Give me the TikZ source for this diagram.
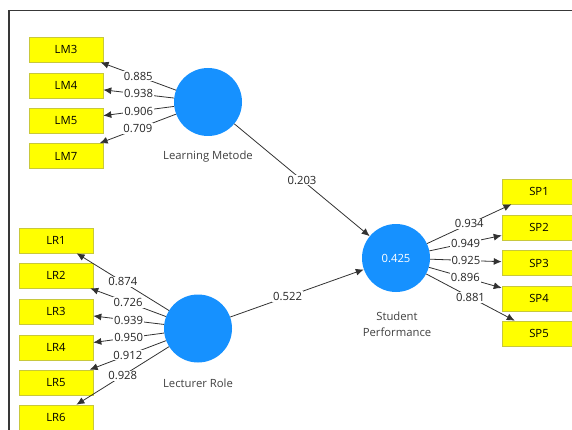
\documentclass[tikz,border=0pt]{standalone}
\usepackage{fontspec}
\setmainfont{Open Sans}
\usetikzlibrary{arrows.meta}
\definecolor{lvblue}{RGB}{22,145,255}
\definecolor{boxyellow}{RGB}{255,255,0}
\definecolor{boxborder}{RGB}{200,200,60}
\definecolor{linegray}{RGB}{50,50,50}
\begin{document}
\begin{tikzpicture}[x=1pt,y=-1pt,
  ind/.style={rectangle, draw=boxborder, fill=boxyellow, minimum width=74pt, minimum height=25pt, inner sep=0pt, font=\fontsize{11.3}{13}\selectfont, text=black, line width=0.6pt},
  lv/.style={circle, fill=lvblue, minimum size=68pt, inner sep=0pt, text=white, font=\fontsize{11.3}{13}\selectfont},
  lvname/.style={font=\fontsize{11.3}{16}\selectfont, text=black!75, align=center},
  load/.style={draw=linegray, line width=0.8pt, -{Latex[length=8pt,width=7pt]}},
  num/.style={fill=white, inner sep=1pt, font=\fontsize{11.3}{13}\selectfont, text=black!85}
]
\useasboundingbox (0,0) rectangle (572,430);
\clip (0,0) rectangle (572,430);
\draw[line width=1.3pt, black!78] (9,432) -- (9,10.5) -- (574,10.5);

% latent variables
\node[lv] (LM) at (208,102) {};
\node[lvname] (LMcap) at (208,157) {Learning Metode};
\node[lv] (LR) at (198,328.5) {};
\node[lvname] (LRcap) at (198,383) {Lecturer Role};
\node[lv] (SP) at (396,258) {0.425};
\node[lvname] (SPcap) at (397,324) {Student\\Performance};

% indicators
\node[ind] (LM3) at (66,49.5) {LM3};
\node[ind] (LM4) at (66,85.5) {LM4};
\node[ind] (LM5) at (66,120.5) {LM5};
\node[ind] (LM7) at (66,156) {LM7};

\node[ind] (LR1) at (56,240.5) {LR1};
\node[ind] (LR2) at (56,275.5) {LR2};
\node[ind] (LR3) at (56,311.5) {LR3};
\node[ind] (LR4) at (56,347.5) {LR4};
\node[ind] (LR5) at (56,382.5) {LR5};
\node[ind] (LR6) at (56,417.5) {LR6};

\node[ind] (SP1) at (539,191.5) {SP1};
\node[ind] (SP2) at (539,227.5) {SP2};
\node[ind] (SP3) at (539,263) {SP3};
\node[ind] (SP4) at (539,298.5) {SP4};
\node[ind] (SP5) at (539,333.5) {SP5};

% loadings
\draw[load] (LM) -- node[num]{0.885} (LM3);
\draw[load] (LM) -- node[num]{0.938} (LM4);
\draw[load] (LM) -- node[num]{0.906} (LM5);
\draw[load] (LM) -- node[num]{0.709} (LM7);

\draw[load] (LR) -- node[num]{0.874} (LR1);
\draw[load] (LR) -- node[num]{0.726} (LR2);
\draw[load] (LR) -- node[num]{0.939} (LR3);
\draw[load] (LR) -- node[num]{0.950} (LR4);
\draw[load] (LR) -- node[num]{0.912} (LR5);
\draw[load] (LR) -- node[num]{0.928} (LR6);

\draw[load] (SP) -- node[num]{0.934} (SP1);
\draw[load] (SP) -- node[num]{0.949} (SP2);
\draw[load] (SP) -- node[num]{0.925} (SP3);
\draw[load] (SP) -- node[num]{0.896} (SP4);
\draw[load] (SP) -- node[num]{0.881} (SP5);

% paths
\draw[load] (LM) -- node[num]{0.203} (SP);
\draw[load] (LR) -- node[num,pos=0.43]{0.522} (SP);
\end{tikzpicture}
\end{document}
